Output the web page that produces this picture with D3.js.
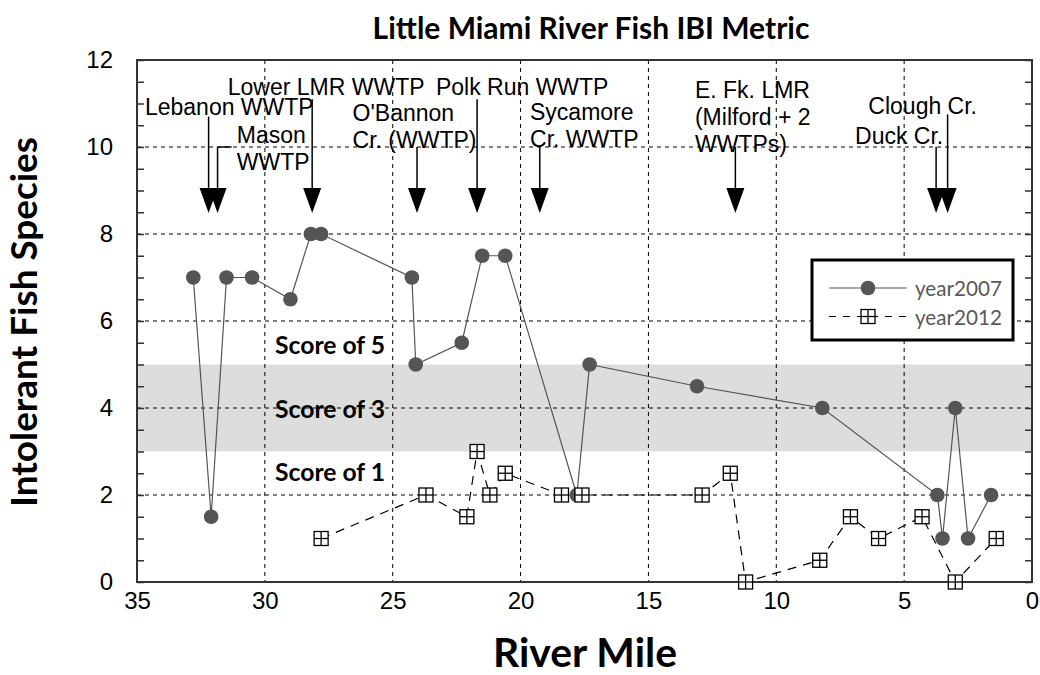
<!DOCTYPE html>
<html><head><meta charset="utf-8">
<script src="https://cdn.jsdelivr.net/npm/d3@7"></script>
<style>body{margin:0;background:#fff}svg{display:block}</style>
</head><body>
<svg id="c" width="1040" height="675"></svg>
<script>
// ---- data ----
const miles2007 = [32.8, 32.1, 31.5, 30.5, 29.0, 28.2, 27.8, 24.25, 24.1, 22.3, 21.5, 20.6, 17.8, 17.3, 13.1, 8.2, 3.7, 3.5, 3.0, 2.5, 1.6];
const values2007 = [7, 1.5, 7, 7, 6.5, 8, 8, 7, 5, 5.5, 7.5, 7.5, 2, 5, 4.5, 4, 2, 1, 4, 1, 2];
const miles2012 = [27.8, 23.7, 22.1, 21.7, 21.2, 20.6, 18.4, 17.6, 12.9, 11.8, 11.2, 8.3, 7.1, 6.0, 4.3, 3.0, 1.4];
const values2012 = [1, 2, 1.5, 3, 2, 2.5, 2, 2, 2, 2.5, 0, 0.5, 1.5, 1, 1.5, 0, 1];
const seriesNames = ["year2007", "year2012"];
const xTicks = [35, 30, 25, 20, 15, 10, 5, 0];
const yTicks = [0, 2, 4, 6, 8, 10, 12];
const bandRange = [3, 5];
const scoreLabels = ["Score of 5", "Score of 3", "Score of 1"];
const scoreValues = [5.45, 4.0, 2.55];
const arrowMiles = [32.2, 31.85, 28.15, 24.05, 21.7, 19.25, 11.6, 3.75, 3.3];
const arrowTops = [10.7, 10.0, 11.1, 10.0, 11.1, 10.0, 10.0, 10.0, 10.75];
const labelLines = [["Lebanon WWTP"], ["Lower LMR WWTP"], ["Mason", "WWTP"], ["O'Bannon", "Cr. (WWTP)"], ["Polk Run WWTP"], ["Sycamore", "Cr. WWTP"], ["E. Fk. LMR", "(Milford + 2", "WWTPs)"], ["Clough Cr."], ["Duck Cr."]];
const labelMiles = [34.69, 31.45, 31.1, 26.57, 23.31, 19.63, 13.18, 6.4, 6.92];
const labelValues = [10.74, 11.2, 10.1, 10.6, 11.2, 10.62, 11.12, 10.77, 10.06];
const title = "Little Miami River Fish IBI Metric";
const xTitle = "River Mile";
const yTitle = "Intolerant Fish Species";

// ---- layout ----
const L = 137, R = 1032, T = 60, B = 582;
const x = d3.scaleLinear().domain([35, 0]).range([L, R]);
const y = d3.scaleLinear().domain([0, 12]).range([B, T]);
const svg = d3.select("#c");
const sans = "'Liberation Sans', Arial, sans-serif";
const cal = "Lato, 'Open Sans', sans-serif";

function fit(sel, w) {
  const n = sel.node(); const fs = parseFloat(sel.attr("font-size"));
  const cur = n.getComputedTextLength(); sel.attr("font-size", fs * w / cur);
}

// band
svg.append("rect").attr("x", L).attr("width", R - L)
  .attr("y", y(bandRange[1])).attr("height", y(bandRange[0]) - y(bandRange[1]))
  .attr("fill", "#dcdddd");

// grid
const g = svg.append("g");
g.selectAll(".vg").data(xTicks.filter(d => d !== 35 && d !== 0)).join("line")
  .attr("x1", d => x(d)).attr("x2", d => x(d)).attr("y1", T).attr("y2", B)
  .attr("stroke", "#000").attr("stroke-width", 1).attr("stroke-dasharray", "4,4");
g.selectAll(".hg").data(yTicks.filter(d => d !== 0 && d !== 12)).join("line")
  .attr("y1", d => y(d)).attr("y2", d => y(d)).attr("x1", L).attr("x2", R)
  .attr("stroke", "#000").attr("stroke-width", 1).attr("stroke-dasharray", "4,4");

// axes
const yAxisL = d3.axisRight(y).tickValues(d3.range(0, 12.01, 0.5)).tickSize(7).tickFormat("");
svg.append("g").attr("transform", `translate(${L},0)`).call(yAxisL)
  .call(a => a.select(".domain").remove())
  .selectAll("line").attr("stroke", "#333").attr("stroke-width", 1.5);
const yAxisR = d3.axisLeft(y).tickValues(d3.range(0, 12.01, 0.5)).tickSize(7).tickFormat("");
svg.append("g").attr("transform", `translate(${R},0)`).call(yAxisR)
  .call(a => a.select(".domain").remove())
  .selectAll("line").attr("stroke", "#333").attr("stroke-width", 1.5);

const yLab = d3.axisLeft(y).tickValues(yTicks).tickSize(0).tickPadding(24);
svg.append("g").attr("transform", `translate(${L},0)`).call(yLab)
  .call(a => a.select(".domain").remove())
  .selectAll("text").attr("font-family", sans).attr("font-size", 24).attr("fill", "#000");
const xLab = d3.axisBottom(x).tickValues(xTicks).tickSize(0).tickPadding(10);
svg.append("g").attr("transform", `translate(0,${B})`).call(xLab)
  .call(a => a.select(".domain").remove())
  .selectAll("text").attr("font-family", sans).attr("font-size", 24).attr("fill", "#000");

svg.append("rect").attr("x", L).attr("y", T).attr("width", R - L).attr("height", B - T)
  .attr("fill", "none").attr("stroke", "#333").attr("stroke-width", 2);

// score labels
svg.selectAll(".sc").data(scoreLabels).join("text")
  .attr("x", x(29.6)).attr("y", (d, i) => y(scoreValues[i]))
  .attr("font-family", cal).attr("font-weight", "bold").attr("font-size", 20)
  .attr("dominant-baseline", "central").text(d => d)
  .each(function () { fit(d3.select(this), 110); });

// series
const d07 = miles2007.map((m, i) => [m, values2007[i]]);
const d12 = miles2012.map((m, i) => [m, values2012[i]]);
const line = d3.line().x(d => x(d[0])).y(d => y(d[1]));
svg.append("path").attr("d", line(d07)).attr("fill", "none").attr("stroke", "#555").attr("stroke-width", 1.2);
svg.append("path").attr("d", line(d12)).attr("fill", "none").attr("stroke", "#000").attr("stroke-width", 1.2).attr("stroke-dasharray", "9,7");

function sqMarker(sel, cx, cy) {
  const s = 14, h = s / 2;
  const gg = sel.append("g").attr("transform", `translate(${cx},${cy})`);
  gg.append("rect").attr("x", -h).attr("y", -h).attr("width", s).attr("height", s).attr("fill", "#fff").attr("stroke", "#000").attr("stroke-width", 1.3);
  gg.append("line").attr("x1", 0).attr("x2", 0).attr("y1", -h).attr("y2", h).attr("stroke", "#000").attr("stroke-width", 1.3);
  gg.append("line").attr("y1", 0).attr("y2", 0).attr("x1", -h).attr("x2", h).attr("stroke", "#000").attr("stroke-width", 1.3);
}
svg.selectAll(".c07").data(d07).join("circle")
  .attr("cx", d => x(d[0])).attr("cy", d => y(d[1])).attr("r", 7.3).attr("fill", "#555");
const m12 = svg.append("g");
d12.forEach(d => sqMarker(m12, x(d[0]), y(d[1])));

// annotations
const ann = svg.append("g");
arrowMiles.forEach((m, i) => {
  const ax = x(m), tip = y(8.48), head = y(9.06);
  ann.append("line").attr("x1", ax).attr("x2", ax).attr("y1", y(arrowTops[i])).attr("y2", head)
    .attr("stroke", "#000").attr("stroke-width", 1.5);
  ann.append("path").attr("d", `M${ax - 9},${head}L${ax + 9},${head}L${ax},${tip}Z`).attr("fill", "#000");
});
// Mason leader
ann.append("line").attr("x1", x(arrowMiles[1])).attr("x2", x(arrowMiles[1]) + 14)
  .attr("y1", y(arrowTops[1])).attr("y2", y(arrowTops[1])).attr("stroke", "#000").attr("stroke-width", 1.5);
labelLines.forEach((lines, i) => {
  const t = ann.append("text").attr("x", x(labelMiles[i])).attr("y", y(labelValues[i]))
    .attr("font-family", sans).attr("font-size", 23).attr("fill", "#000");
  lines.forEach((s, k) => t.append("tspan").attr("x", x(labelMiles[i])).attr("dy", k ? 27 : 0).text(s));
});

// legend
const lg = svg.append("g");
lg.append("rect").attr("x", 812).attr("y", 260).attr("width", 201).attr("height", 80)
  .attr("fill", "#fff").attr("stroke", "#000").attr("stroke-width", 3);
const rows = [288, 316.5];
lg.append("line").attr("x1", 829).attr("x2", 907).attr("y1", rows[0]).attr("y2", rows[0]).attr("stroke", "#555").attr("stroke-width", 1.2);
lg.append("circle").attr("cx", 868).attr("cy", rows[0]).attr("r", 7.3).attr("fill", "#555");
lg.append("line").attr("x1", 829).attr("x2", 907).attr("y1", rows[1]).attr("y2", rows[1]).attr("stroke", "#000").attr("stroke-width", 1.2).attr("stroke-dasharray", "7,7");
sqMarker(lg, 868, rows[1]);
lg.selectAll(".lt").data(seriesNames).join("text")
  .attr("x", 915).attr("y", (d, i) => rows[i]).attr("dominant-baseline", "central")
  .attr("font-family", cal).attr("font-size", 22).attr("fill", "#595959").text(d => d)
  .each(function () { fit(d3.select(this), 87); });

// titles
const tt = svg.append("text").attr("x", 591).attr("y", 39).attr("text-anchor", "middle")
  .attr("font-family", cal).attr("font-weight", "bold").attr("font-size", 26).text(title);
fit(tt, 437);
const xt = svg.append("text").attr("x", 585).attr("y", 667).attr("text-anchor", "middle")
  .attr("font-family", cal).attr("font-weight", "bold").attr("font-size", 40).text(xTitle);
fit(xt, 184);
const yt = svg.append("text").attr("transform", "translate(37,322) rotate(-90)").attr("text-anchor", "middle")
  .attr("font-family", cal).attr("font-weight", "bold").attr("font-size", 38).text(yTitle);
fit(yt, 370);
</script>
</body></html>
